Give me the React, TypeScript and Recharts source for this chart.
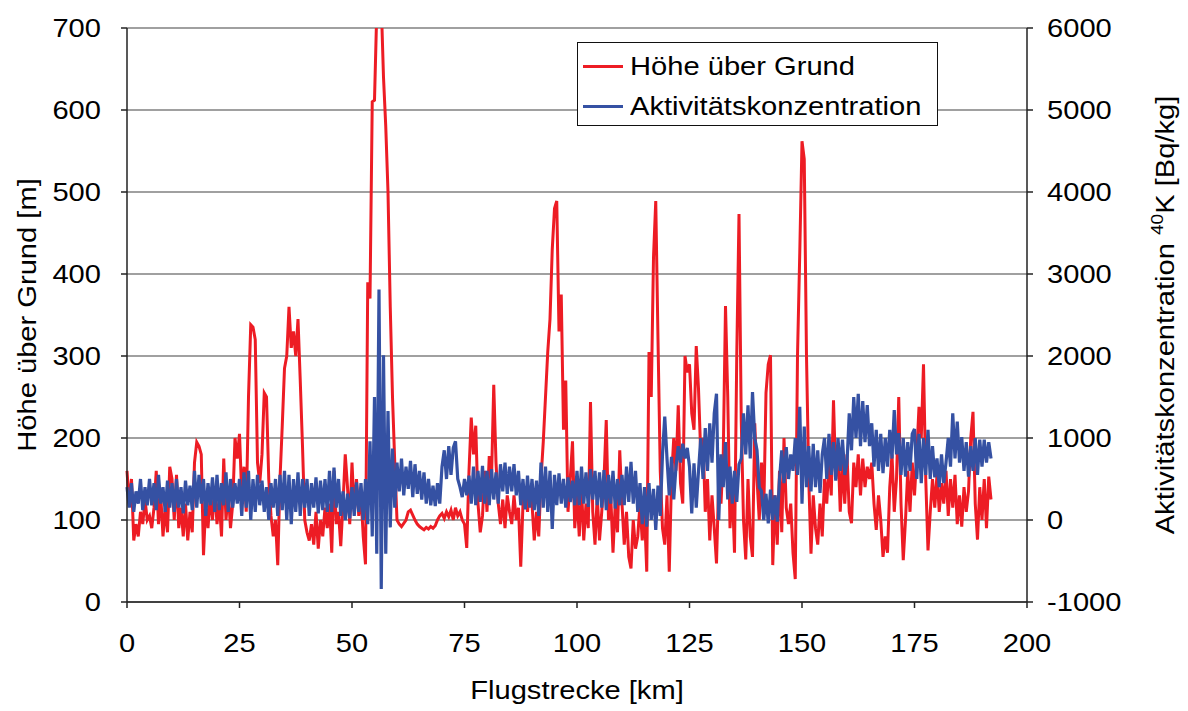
import React from 'react'
import { LineChart, Line, XAxis, YAxis, CartesianGrid, Legend } from 'recharts'

const hoeheUeberGrund = [
  160, 120, 150, 75, 95, 80, 110, 95, 125, 100,
  105, 90, 115, 160, 95, 130, 80, 115, 85, 165,
  150, 100, 155, 90, 115, 80, 120, 75, 110, 85,
  170, 195, 190, 180, 57, 120, 90, 130, 100, 140,
  95, 125, 80, 175, 100, 135, 90, 120, 200, 175,
  205, 130, 165, 110, 250, 338, 335, 320, 170, 145,
  180, 255, 250, 150, 105, 80, 100, 45, 150, 215,
  285, 300, 360, 310, 330, 300, 345, 270, 190, 100,
  85, 75, 95, 70, 110, 65, 100, 80, 115, 90,
  120, 60, 160, 95, 110, 68, 120, 180, 140, 95,
  170, 110, 150, 105, 130, 80, 46, 390, 370, 610,
  612, 720, 730, 730, 640, 580, 500, 360, 250, 170,
  100, 95, 92, 96, 100, 110, 112, 106, 100, 95,
  92, 90, 88, 91, 89, 92, 90, 93, 100, 105,
  108, 102, 110, 104, 112, 100, 115, 105, 110, 100,
  95, 66, 160, 225, 180, 215, 120, 85, 105, 160,
  110, 178, 150, 265, 170, 120, 95, 125, 90, 130,
  110, 95, 130, 100, 115, 43, 120, 140, 110, 135,
  120, 75, 110, 80, 150, 195, 250, 305, 345, 430,
  480, 489, 330, 375, 210, 270, 110, 150, 196, 90,
  130, 80, 140, 75, 120, 90, 244, 110, 70, 130,
  75, 110, 150, 222, 100, 130, 60, 120, 85, 185,
  120, 70, 110, 55, 41, 100, 65, 80, 120, 75,
  110, 37, 305, 250, 420, 489, 320, 160, 90, 70,
  130, 37, 150, 200, 160, 240, 145, 120, 300, 280,
  290, 230, 210, 312, 260, 180, 200, 110, 150, 75,
  130, 90, 47, 150, 120, 180, 361, 250, 90, 140,
  60, 300, 473, 222, 100, 52, 150, 80, 55, 218,
  150, 100, 170, 110, 255, 290, 301, 45, 130, 70,
  160, 85, 200, 115, 95, 120, 60, 28, 300, 425,
  562, 540, 300, 150, 59, 130, 90, 70, 120, 80,
  150, 120, 170, 130, 246, 150, 190, 110, 170, 120,
  180, 110, 96, 170, 140, 180, 130, 175, 140, 165,
  150, 170, 120, 88, 130, 100, 55, 80, 60, 140,
  180, 110, 150, 250, 120, 51, 100, 160, 110, 170,
  130, 180, 238, 200, 290, 150, 63, 110, 150, 115,
  155, 110, 145, 120, 160, 105, 150, 115, 155, 95,
  130, 92, 140, 110, 135, 200, 232, 120, 76, 140,
  100, 150, 90, 153, 125,
]

// Aktivitätskonzentration 40K [Bq/kg], gleiche Stützstellen
const aktivitaetK40 = [
  400, 150, 450, 100, 350, 200, 500, 120, 400, 180,
  500, 180, 450, 120, 550, 200, 400, 100, 480, 150,
  450, 100, 500, 150, 400, 80, 480, 180, 420, 120,
  600, 150, 550, 200, 500, 50, 450, 180, 520, 100,
  550, 120, 450, 180, 580, 100, 500, 150, 450, 200,
  500, 50, 580, 150, 600, 0, 500, 100, 550, 180,
  480, 100, 400, 0, 450, 150, 500, 50, 550, 120,
  600, 0, 550, -50, 500, 100, 580, 50, 500, 150,
  500, 50, 450, 150, 520, 80, 480, 120, 500, 100,
  600, 100, 640, 150, 500, 50, 350, 0, 320, 20,
  400, 50, 460, 100, 450, 0, 500, -50, 960, -200,
  1500, -410, 2810, -840, 2010, -410, 1330, -90, 870, 150,
  700, 350, 750, 300, 650, 380, 720, 280, 680, 320,
  600, 250, 580, 200, 500, 180, 420, 170, 450, 200,
  650, 850, 500, 900, 550, 880, 960, 500, 400, 280,
  500, 300, 540, 200, 650, 180, 600, 220, 660, 200,
  600, 180, 620, 250, 580, 200, 680, 350, 700, 320,
  650, 350, 680, 300, 600, 180, 500, 130, 540, 150,
  500, 120, 480, 50, 700, 150, 650, 100, 600, -110,
  550, 180, 570, 200, 500, 150, 520, 220, 480, 180,
  600, 180, 650, 200, 580, 160, 620, 250, 600, 180,
  580, 150, 610, 120, 550, 200, 600, 140, 500, 180,
  550, 180, 650, 220, 710, 200, 600, 100, 450, -50,
  400, -80, 450, 0, 380, -120, 420, 50, 800, 1260,
  750, 300, 770, 250, 650, 900, 700, 930, 750, 880,
  650, 80, 690, 150, 600, 1000, 500, 1120, 600, 1180,
  700, 1300, 1540, 0, 800, 400, 950, 250, 650, 200,
  600, 220, 680, 750, 1300, 800, 1400, 750, 1560, 1000,
  850, 400, 350, 0, 320, -40, 370, 0, 300, -20,
  500, 850, 450, 890, 500, 800, 600, 1000, 550, 1380,
  200, 1140, 400, 900, 350, 930, 400, 850, 330, 800,
  1000, 500, 1050, 550, 950, 480, 1000, 600, 980, 550,
  700, 1300, 850, 1500, 1000, 1540, 900, 1450, 950, 1400,
  900, 1180, 650, 1100, 600, 1050, 570, 1000, 650, 1100,
  750, 1340, 800, 1060, 550, 1000, 530, 950, 600, 1050,
  1110, 500, 1050, 450, 1000, 550, 1100, 500, 900, 520,
  750, 400, 800, 450, 700, 1000, 650, 1300, 750, 1200,
  700, 1010, 600, 950, 530, 900, 600, 1000, 550, 980,
  650, 980, 700, 950, 750,
]

const STEP_KM = 0.5
const flugstrecke = hoeheUeberGrund.map((_, i) => i * STEP_KM)

const xTicks = [0, 25, 50, 75, 100, 125, 150, 175, 200]
const hoeheTicks = [0, 100, 200, 300, 400, 500, 600, 700]
const aktivitaetTicks = [-1000, 0, 1000, 2000, 3000, 4000, 5000, 6000]

const data = flugstrecke.map((km, i) => ({
  km,
  hoehe: hoeheUeberGrund[i],
  aktivitaet: aktivitaetK40[i],
}))

const FONT = "'Liberation Sans', Arial, sans-serif"
const FONT_SIZE = 26
const STRETCH = 1.12
const RED = '#ED1C24'
const BLUE = '#3551A3'

function Tick({ x, y, payload, textAnchor, dy }: any) {
  return (
    <text
      x={x}
      y={y}
      dy={dy}
      textAnchor={textAnchor}
      fontFamily={FONT}
      fontSize={FONT_SIZE}
      fill="#000"
      transform={`translate(${x} 0) scale(${STRETCH} 1) translate(${-x} 0)`}
    >
      {payload.value}
    </text>
  )
}

function AxisTitle({ viewBox, side }: any) {
  const { x, y, width, height } = viewBox
  if (side === 'bottom') {
    const cx = x + width / 2
    const cy = y + 88
    return (
      <text
        x={cx}
        y={cy}
        dy="0.35em"
        textAnchor="middle"
        fontFamily={FONT}
        fontSize={FONT_SIZE}
        fill="#000"
        transform={`translate(${cx} 0) scale(${STRETCH} 1) translate(${-cx} 0)`}
      >
        Flugstrecke [km]
      </text>
    )
  }
  const cy = y + height / 2
  const cx = side === 'left' ? x + width - 100 : x + 138
  const tf = `rotate(-90 ${cx} ${cy}) translate(${cx} ${cy}) scale(${STRETCH} 1) translate(${-cx} ${-cy})`
  return (
    <text x={cx} y={cy} dy="0.35em" textAnchor="middle" fontFamily={FONT} fontSize={FONT_SIZE} fill="#000" transform={tf}>
      {side === 'left' ? (
        'Höhe über Grund [m]'
      ) : (
        <>
          <tspan>Aktivitätskonzentration </tspan>
          <tspan fontSize={17} dy={-11}>40</tspan>
          <tspan dy={11}>K [Bq/kg]</tspan>
        </>
      )}
    </text>
  )
}

const legendRows = [
  { label: 'Höhe über Grund', color: RED },
  { label: 'Aktivitätskonzentration', color: BLUE },
]

function LegendBox() {
  return (
    <div
      style={{
        boxSizing: 'border-box',
        width: 361,
        height: 84,
        border: '1.5px solid #111',
        background: '#fff',
        position: 'relative',
        fontFamily: FONT,
        fontSize: FONT_SIZE,
      }}
    >
      {legendRows.map((row, i) => (
        <div key={row.label} style={{ position: 'absolute', left: 0, top: 23 + i * 40 }}>
          <div style={{ position: 'absolute', left: 5, top: -1.5, width: 40, height: 3, background: row.color }} />
          <div
            style={{
              position: 'absolute',
              left: 52,
              top: -16,
              lineHeight: '32px',
              whiteSpace: 'nowrap',
              color: '#000',
              transform: `scaleX(${STRETCH})`,
              transformOrigin: 'left center',
            }}
          >
            {row.label}
          </div>
        </div>
      ))}
    </div>
  )
}

export default function App() {
  return (
    <div style={{ position: 'absolute', left: 0, top: 0, width: 1188, height: 711, background: '#fff' }}>
      <LineChart width={1188} height={711} data={data} margin={{ top: 28, right: 11, bottom: 49, left: 47 }}>
        <CartesianGrid yAxisId="left" vertical={false} stroke="#808080" strokeWidth={1.5} horizontalValues={hoeheTicks} />
        <XAxis
          dataKey="km"
          type="number"
          domain={[0, 200]}
          ticks={xTicks}
          interval={0}
          height={60}
          tickSize={6}
          tickMargin={26}
          stroke="#222"
          strokeWidth={1.5}
          tick={(p: any) => <Tick {...p} dy="0.71em" />}
          label={<AxisTitle side="bottom" />}
        />
        <XAxis xAxisId="top" orientation="top" dataKey="km" type="number" domain={[0, 200]} height={0} tick={false} tickLine={false} stroke="#222" strokeWidth={1.5} />
        <YAxis
          yAxisId="left"
          domain={[0, 700]}
          ticks={hoeheTicks}
          allowDataOverflow
          interval={0}
          width={80}
          tickSize={6}
          tickMargin={20}
          stroke="#222"
          strokeWidth={1.5}
          tick={(p: any) => <Tick {...p} dy="0.35em" />}
          label={<AxisTitle side="left" />}
        />
        <YAxis
          yAxisId="right"
          orientation="right"
          domain={[-1000, 6000]}
          ticks={aktivitaetTicks}
          allowDataOverflow
          interval={0}
          width={150}
          tickSize={6}
          tickMargin={14}
          stroke="#222"
          strokeWidth={1.5}
          tick={(p: any) => <Tick {...p} dy="0.35em" />}
          label={<AxisTitle side="right" />}
        />
        <Legend
          layout="horizontal"
          verticalAlign="middle"
          align="center"
          wrapperStyle={{ position: 'absolute', left: 577, top: 42, width: 361, height: 84 }}
          content={() => <LegendBox />}
        />
        <Line
          yAxisId="left"
          type="linear"
          dataKey="hoehe"
          name="Höhe über Grund"
          stroke={RED}
          strokeWidth={3}
          dot={false}
          isAnimationActive={false}
        />
        <Line
          yAxisId="right"
          type="linear"
          dataKey="aktivitaet"
          name="Aktivitätskonzentration"
          stroke={BLUE}
          strokeWidth={3.2}
          dot={false}
          isAnimationActive={false}
        />
      </LineChart>
    </div>
  )
}
